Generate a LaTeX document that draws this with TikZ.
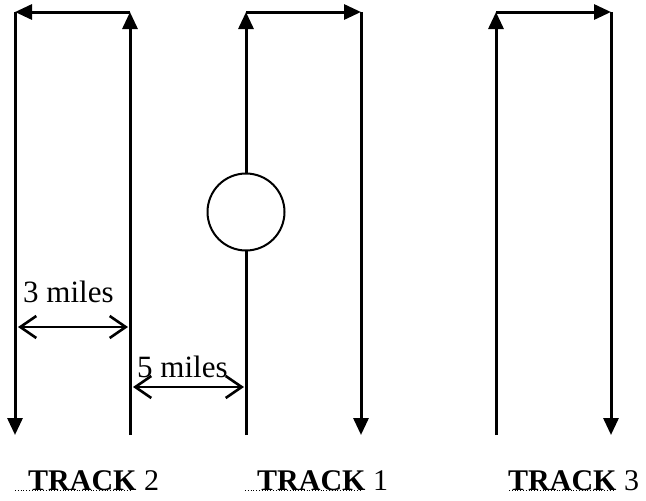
\documentclass[tikz,border=0pt]{standalone}
\usepackage{fontspec}
\setmainfont{Liberation Serif}
\usetikzlibrary{arrows.meta,positioning}
\tikzset{%
	track/.style    = {line width=3pt, -{Triangle[length=17pt,width=15pt]}},
	gap/.style      = {line width=2.6pt, {Straight Barb[length=16pt,width=22pt,line width=2.6pt]}-{Straight Barb[length=16pt,width=22pt,line width=2.6pt]}},
	milestext/.style= {anchor=base west, inner sep=0pt, font=\fontsize{31}{31}\selectfont},
	tracktext/.style= {anchor=base west, inner sep=0pt, font=\fontsize{30}{30}\selectfont},
	leader/.style   = {line width=1pt, dash pattern=on 1pt off 1.8pt},
}
\begin{document}
\begin{tikzpicture}[x=1pt,y=-1pt]
	\useasboundingbox (0,0) rectangle (646,501);
	
	% track corners
	\foreach \n/\l/\r in {2/15/130,1/246/361,3/496/611} {
		\coordinate (bl\n) at (\l,435);
		\coordinate (tl\n) at (\l,12);
		\coordinate (tr\n) at (\r,12);
		\coordinate (br\n) at (\r,435);
	}
	
	% track 2 (runs left)
	\draw[track] (br2) -- (tr2);
	\draw[track] (tr2) -- (tl2);
	\draw[track] (tl2) -- (bl2);
	
	% track 1 (runs right)
	\draw[track] (bl1) -- (tl1);
	\draw[track] (tl1) -- (tr1);
	\draw[track] (tr1) -- (br1);
	\node[draw, circle, fill=white, line width=2pt, minimum size=77pt, inner sep=0pt] (train) at (246,212) {};
	
	% track 3 (runs right)
	\draw[track] (bl3) -- (tl3);
	\draw[track] (tl3) -- (tr3);
	\draw[track] (tr3) -- (br3);
	
	% distances
	\coordinate (g3a) at (18,327);
	\coordinate (g3b) at (128,327);
	\draw[gap] (g3a) -- (g3b);
	\node[milestext] (m3) at (23,302) {3 miles};
	\coordinate (g5a) at (133,387);
	\coordinate (g5b) at (244,387);
	\draw[gap] (g5a) -- (g5b);
	\node[milestext] (m5) at (137,377) {5 miles};
	
	% labels
	\node[tracktext] (lab2) at (28,490) {\textbf{TRACK} 2};
	\node[tracktext] (lab1) at (257,490) {\textbf{TRACK} 1};
	\node[tracktext] (lab3) at (508,490) {\textbf{TRACK} 3};
	\draw[leader] (15,490) -- (130,490);
	\draw[leader] (245,490) -- (360,490);
	\draw[leader] (509,490) -- (613,490);
\end{tikzpicture}
\end{document}
